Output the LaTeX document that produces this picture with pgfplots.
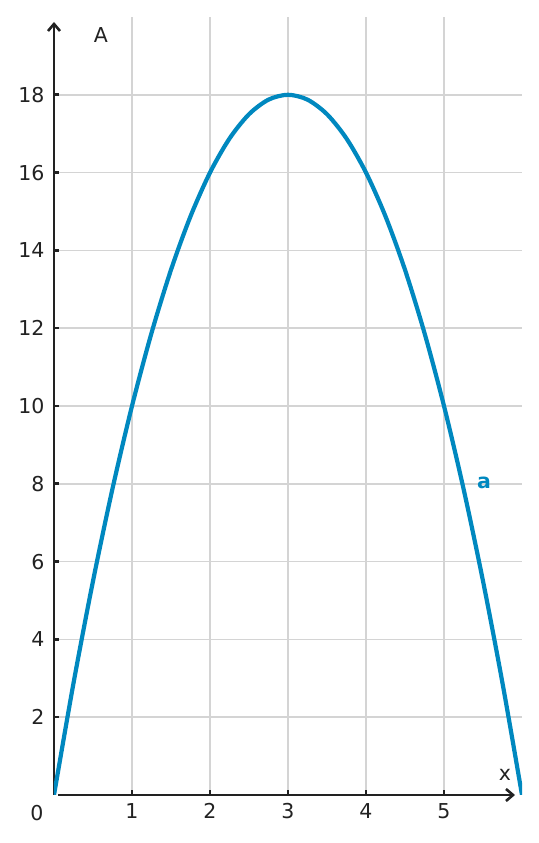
\documentclass[border=0pt]{standalone}
\usepackage{pgfplots}
\pgfplotsset{compat=1.18}
\usepackage{fontspec}
\setmainfont{DejaVu Sans}
\usetikzlibrary{arrows.meta}
\definecolor{curvec}{HTML}{0088BF}
\definecolor{txt}{HTML}{222222}
\definecolor{gridc}{HTML}{D4D4D4}
\begin{document}
\begin{tikzpicture}[x=1pt,y=1pt]
\path[use as bounding box] (-54,-48) rectangle (484,795);
\begin{axis}[
  at={(0,0)}, anchor=south west,
  scale only axis, width=468pt, height=778pt,
  xmin=0, xmax=6, ymin=0, ymax=20,
  axis lines=left,
  x axis line style={txt, line width=2.8pt, -{Straight Barb[length=7pt,width=12pt,line width=2.6pt]}, shorten >=7pt, shorten <=4pt},
  y axis line style={txt, line width=2.8pt, -{Straight Barb[length=7pt,width=12pt,line width=2.6pt]}, shorten >=5pt},
  xtick={1,2,3,4,5}, ytick={2,4,6,8,10,12,14,16,18},
  tick align=inside, major tick length=5pt,
  tick style={txt, line width=2.6pt},
  xmajorgrids, ymajorgrids,
  major grid style={gridc, line width=1.5pt},
  /pgf/number format/assume math mode=true,
  tick label style={font=\fontsize{20.5}{24}\selectfont, text=txt},
  yticklabel style={xshift=-6pt},
  xticklabel style={yshift=-5pt},
  clip=true,
]
\addplot[curvec, line width=4.2pt, smooth] coordinates {
(0,0) (0.25,2.875) (0.5,5.5) (0.75,7.875) (1,10) (1.25,11.875) (1.5,13.5) (1.75,14.875)
(2,16) (2.25,16.875) (2.5,17.5) (2.75,17.875) (3,18) (3.25,17.875) (3.5,17.5) (3.75,16.875)
(4,16) (4.25,14.875) (4.5,13.5) (4.75,11.875) (5,10) (5.25,7.875) (5.5,5.5) (5.75,2.875) (6,0)
};
\end{axis}
\node[txt, font=\fontsize{20.5}{24}\selectfont] at (47,760) {A};
\node[txt, font=\fontsize{20.5}{24}\selectfont] at (451,20) {x};
\node[txt, font=\fontsize{20.5}{24}\selectfont] at (-17,-18) {0};
\node[curvec, font=\fontsize{20.5}{24}\selectfont\bfseries] at (430,312) {a};
\end{tikzpicture}
\end{document}
